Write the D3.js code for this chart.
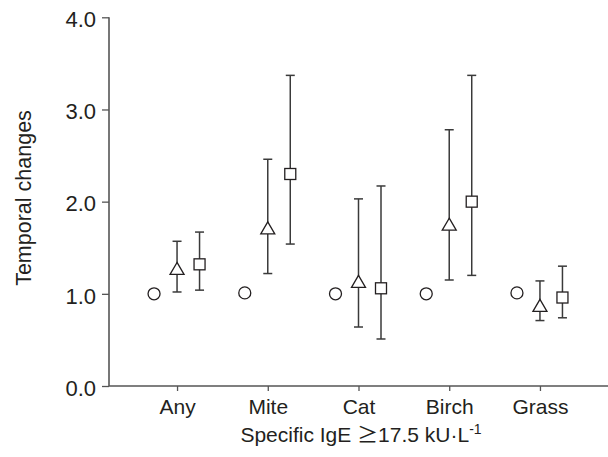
<!DOCTYPE html>
<html><head><meta charset="utf-8">
<script src="https://cdn.jsdelivr.net/npm/d3@7"></script>
<style>
html,body{margin:0;padding:0;background:#fff;}
svg text{font-family:"Liberation Sans",Arial,sans-serif;fill:#231f20;}
</style></head>
<body><svg id="c" width="608" height="457"></svg>
<script>
const categories = ["Any","Mite","Cat","Birch","Grass"];
const circleVals = [1.0, 1.01, 1.0, 1.0, 1.01];
const triVals = [1.27, 1.71, 1.13, 1.75, 0.87];
const triLo   = [1.02, 1.22, 0.64, 1.15, 0.71];
const triHi   = [1.57, 2.46, 2.03, 2.78, 1.14];
const sqVals  = [1.32, 2.30, 1.06, 2.00, 0.96];
const sqLo    = [1.04, 1.54, 0.51, 1.20, 0.74];
const sqHi    = [1.67, 3.37, 2.17, 3.37, 1.30];
const yTicks = [0, 1, 2, 3, 4];

const svg = d3.select("#c");
const x = d3.scalePoint().domain(categories).range([109, 608]).padding(0.75);
const y = d3.scaleLinear().domain([0, 4]).range([386, 17.3]);
const axisColor = "#555";

// y axis
const ya = svg.append("g").attr("transform","translate(109,0)")
  .call(d3.axisLeft(y).tickValues(yTicks).tickFormat(d3.format(".1f")).tickSize(7).tickPadding(6));
ya.select(".domain").attr("stroke",axisColor).attr("stroke-width",1.6).attr("d","M0,"+y(4)+"V"+y(0));
ya.selectAll(".tick line").attr("stroke",axisColor).attr("stroke-width",1.3);
ya.selectAll(".tick text").attr("font-size","22px").attr("dy","0.42em").attr("fill","#231f20");

// x axis
const xa = svg.append("g").attr("transform","translate(0,386)")
  .call(d3.axisBottom(x).tickSize(5).tickPadding(8));
xa.select(".domain").attr("stroke",axisColor).attr("stroke-width",1.6).attr("d","M109,0H608");
xa.selectAll(".tick line").attr("stroke",axisColor).attr("stroke-width",1.3);
xa.selectAll(".tick text").attr("font-size","21px").attr("dy","0.72em").attr("fill","#231f20");

// axis titles
svg.append("text").attr("transform","translate(31,198) rotate(-90)")
  .attr("text-anchor","middle").attr("font-size","21.5px").text("Temporal changes");
const xt = svg.append("text").attr("x",361).attr("y",442).attr("text-anchor","middle").attr("font-size","21px");
xt.append("tspan").text("Specific IgE ");
xt.append("tspan").attr("font-family","'Noto Sans CJK JP',sans-serif").attr("font-size","21px").text("\u2265");
xt.append("tspan").text("17.5 kU\u00b7L");
xt.append("tspan").attr("dy","-8").attr("font-size","14px").text("-1");

const lineColor = "#3a3a3a";
const mk = "#231f20";
const offC = -23, offS = 22.5, cap = 4.5;

const rows = categories.map((c,i)=>({c, circ:circleVals[i], t:triVals[i], tl:triLo[i], th:triHi[i], s:sqVals[i], sl:sqLo[i], sh:sqHi[i]}));

// error bars
function errBars(off, lo, hi){
  const g = svg.append("g").attr("stroke",lineColor).attr("stroke-width",1.5).attr("fill","none");
  rows.forEach(r=>{
    const cx = x(r.c)+off;
    g.append("line").attr("x1",cx).attr("x2",cx).attr("y1",y(r[lo])).attr("y2",y(r[hi]));
    g.append("line").attr("x1",cx-cap).attr("x2",cx+cap).attr("y1",y(r[lo])).attr("y2",y(r[lo]));
    g.append("line").attr("x1",cx-cap).attr("x2",cx+cap).attr("y1",y(r[hi])).attr("y2",y(r[hi]));
  });
}
errBars(0,"tl","th");
errBars(offS,"sl","sh");

// circles
svg.append("g").selectAll("circle").data(rows).join("circle")
  .attr("cx",d=>x(d.c)+offC).attr("cy",d=>y(d.circ)).attr("r",6)
  .attr("fill","#fff").attr("stroke",mk).attr("stroke-width",1.3);

// triangles
svg.append("g").selectAll("path").data(rows).join("path")
  .attr("d",d=>{const cx=x(d.c), cy=y(d.t); return `M${cx},${cy-6.5}L${cx+7},${cy+5.5}L${cx-7},${cy+5.5}Z`;})
  .attr("fill","#fff").attr("stroke",mk).attr("stroke-width",1.3);

// squares
svg.append("g").selectAll("rect").data(rows).join("rect")
  .attr("x",d=>x(d.c)+offS-5.5).attr("y",d=>y(d.s)-5.5).attr("width",11).attr("height",11)
  .attr("fill","#fff").attr("stroke",mk).attr("stroke-width",1.3);
</script></body></html>
